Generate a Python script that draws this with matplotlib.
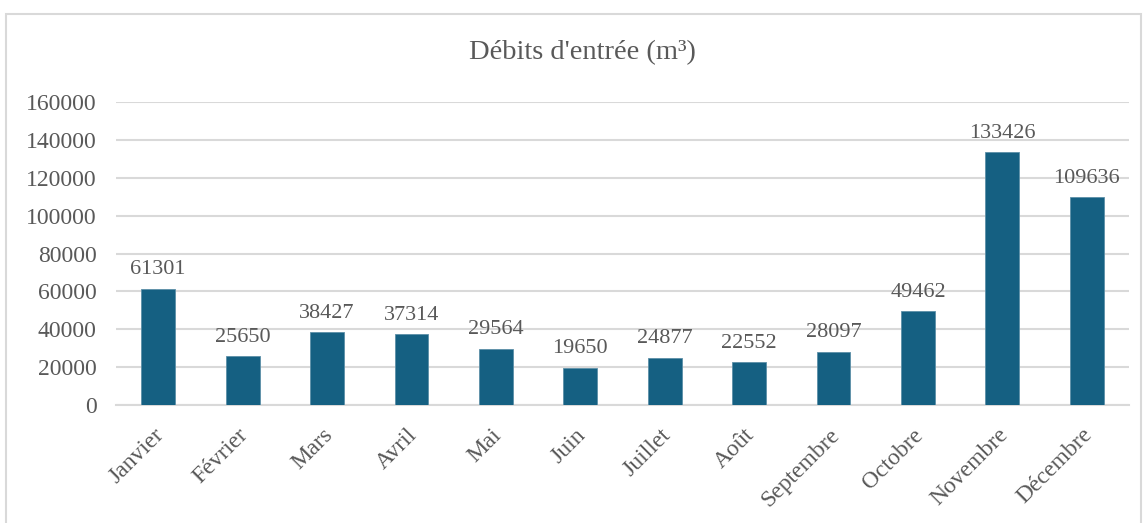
import numpy as np
import matplotlib.pyplot as plt
import matplotlib.transforms as mtransforms
from matplotlib.patches import Rectangle

mois = ['Janvier', 'Février', 'Mars', 'Avril', 'Mai', 'Juin', 'Juillet',
        'Août', 'Septembre', 'Octobre', 'Novembre', 'Décembre']
debits = [61301, 25650, 38427, 37314, 29564, 19650, 24877,
          22552, 28097, 49462, 133426, 109636]
yticks = [0, 20000, 40000, 60000, 80000, 100000, 120000, 140000, 160000]

plt.rcParams['font.family'] = ['Liberation Serif', 'DejaVu Serif']
gris = '#595959'

fig = plt.figure(figsize=(11.43, 5.23), dpi=100)
ax = fig.add_axes([116 / 1143, 1 - 405 / 523, (1129 - 116) / 1143, (405 - 102) / 523])

# cadre du graphique
fig.patches.append(Rectangle((6 / 1143, -0.1), 1135 / 1143, 1.1 - 14 / 523,
                             transform=fig.transFigure, fill=False,
                             edgecolor='#D9D9D9', linewidth=1.5))

x = np.arange(len(mois))
ax.bar(x, debits, width=0.4, color='#156082', edgecolor='#5c8fa8', linewidth=0.6, zorder=3)

for xi, v in zip(x, debits):
    ax.annotate(str(v), (xi, v), xytext=(0, 7), textcoords='offset points',
                ha='center', va='bottom', fontsize=16, color=gris)

ax.set_xlim(-0.5, len(mois) - 0.5)
ax.set_ylim(0, 160000)
ax.set_yticks(yticks)
ax.set_yticklabels([str(t) for t in yticks], fontsize=17, color=gris)
ax.set_xticks(x)
ax.set_xticklabels(mois, rotation=45, ha='right', rotation_mode='anchor',
                   fontsize=17, color=gris)
ax.tick_params(length=0)
ax.tick_params(axis='y', pad=14)
ax.tick_params(axis='x', pad=14)
decal = mtransforms.ScaledTranslation(-5 / 100, 0, fig.dpi_scale_trans)
for lab in ax.get_xticklabels():
    lab.set_transform(lab.get_transform() + decal)
ax.grid(axis='y', color='#D9D9D9', linewidth=1.5, zorder=0)
for s in ['top', 'right', 'left']:
    ax.spines[s].set_visible(False)
ax.spines['bottom'].set_color('#D9D9D9')
ax.spines['bottom'].set_linewidth(1.5)

fig.text(582 / 1143, 1 - 53 / 523, "Débits d'entrée (m³)", ha='center', va='center',
         fontsize=20.5, color=gris)

fig.savefig('out.png', dpi=100)
